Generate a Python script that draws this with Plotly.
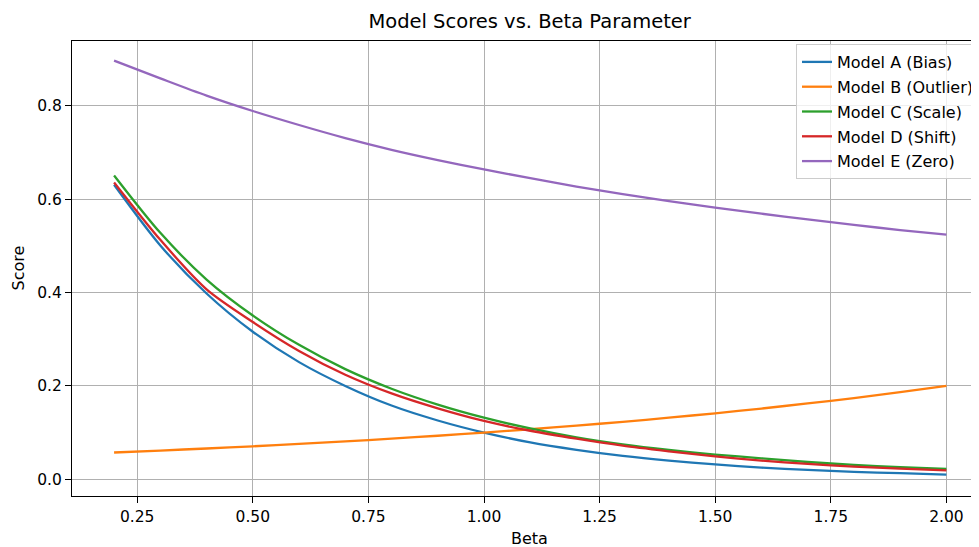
import plotly.graph_objects as go

beta = [0.2, 0.3, 0.4, 0.5, 0.6, 0.7, 0.8, 0.9, 1.0, 1.1, 1.2, 1.3, 1.4, 1.5, 1.6, 1.7, 1.8, 1.9, 2.0]

model_a = [0.631, 0.501, 0.398, 0.316, 0.251, 0.200, 0.158, 0.126, 0.100, 0.079, 0.063,
           0.050, 0.040, 0.032, 0.025, 0.020, 0.016, 0.013, 0.010]
model_b = [0.0574, 0.0616, 0.0660, 0.0707, 0.0758, 0.0812, 0.0871, 0.0933, 0.100, 0.1072,
           0.1149, 0.1231, 0.1320, 0.1414, 0.1516, 0.1625, 0.1741, 0.1866, 0.200]
model_c = [0.651, 0.528, 0.428, 0.351, 0.288, 0.236, 0.194, 0.160, 0.132, 0.109, 0.090,
           0.075, 0.063, 0.053, 0.045, 0.037, 0.031, 0.026, 0.022]
model_d = [0.636, 0.513, 0.407, 0.337, 0.275, 0.224, 0.184, 0.152, 0.125, 0.104, 0.087,
           0.072, 0.060, 0.049, 0.040, 0.033, 0.027, 0.023, 0.019]
model_e = [0.897, 0.859, 0.822, 0.789, 0.759, 0.731, 0.706, 0.684, 0.664, 0.645, 0.627,
           0.611, 0.596, 0.582, 0.569, 0.557, 0.545, 0.534, 0.524]

names = ["Model A (Bias)", "Model B (Outlier)", "Model C (Scale)", "Model D (Shift)", "Model E (Zero)"]
series = [model_a, model_b, model_c, model_d, model_e]
colors = ["#1f77b4", "#ff7f0e", "#2ca02c", "#d62728", "#9467bd"]

x_ticks = [0.25, 0.50, 0.75, 1.00, 1.25, 1.50, 1.75, 2.00]
y_ticks = [0.0, 0.2, 0.4, 0.6, 0.8]

FONT = "DejaVu Sans"
OFF = 8  # page body margin offset
W, H = 979 - OFF, 547 - OFF
ML, MR, MT, MB = 72 - OFF, 0, 41 - OFF, 51
plot_w = W - ML - MR
plot_h = H - MT - MB

fig = go.Figure()
for i, (nm, ys, col) in enumerate(zip(names, series, colors)):
    fig.add_trace(go.Scatter(
        x=beta, y=ys, mode="lines", name=nm,
        line=dict(color=col, width=2.3, shape="spline", smoothing=0.8),
        legendgroup=f"g{i}",
    ))

axis_common = dict(
    showline=True, linecolor="black", linewidth=1,
    ticks="outside", ticklen=6, tickwidth=1, tickcolor="black",
    showgrid=True, gridcolor="#b0b0b0", gridwidth=1,
    zeroline=False,
    tickfont=dict(family=FONT, size=15.5, color="black"),
)

fig.update_xaxes(
    range=[0.109, 2.0705], tickvals=x_ticks,
    ticktext=[f"{v:.2f}" for v in x_ticks],
    mirror=True, **axis_common,
)
fig.update_yaxes(
    range=[-0.0358, 0.939], tickvals=y_ticks,
    ticktext=[f"{v:.1f}" for v in y_ticks],
    mirror=False, **axis_common,
)

fig.update_layout(
    width=W, height=H,
    margin=dict(l=ML, r=MR, t=MT, b=MB, pad=0),
    paper_bgcolor="white", plot_bgcolor="white",
    font=dict(family=FONT, size=16, color="black"),
    title=dict(
        text="Model Scores vs. Beta Parameter",
        font=dict(family=FONT, size=19.5, color="black"),
        x=(529.6 - OFF) / W, xref="container", xanchor="center",
        y=1 - (21 - OFF) / H, yref="container", yanchor="middle",
    ),
    showlegend=True,
    legend=dict(
        x=1.0, y=1 - (44 - 41) / plot_h, xanchor="right", yanchor="top",
        bgcolor="rgba(255,255,255,0.8)", bordercolor="#cccccc", borderwidth=1,
        font=dict(family=FONT, size=16, color="black"),
        tracegroupgap=1, itemwidth=30,
    ),
    annotations=[
        dict(text="Beta", xref="paper", yref="paper",
             x=(529.6 - OFF - ML) / plot_w, y=-(538 - 496) / plot_h,
             xanchor="center", yanchor="middle", showarrow=False,
             font=dict(family=FONT, size=16, color="black")),
        dict(text="Score", xref="paper", yref="paper",
             x=(18 - OFF - ML) / plot_w, y=0.5, textangle=-90,
             xanchor="center", yanchor="middle", showarrow=False,
             font=dict(family=FONT, size=16, color="black")),
    ],
)

fig.write_html("out.html")
